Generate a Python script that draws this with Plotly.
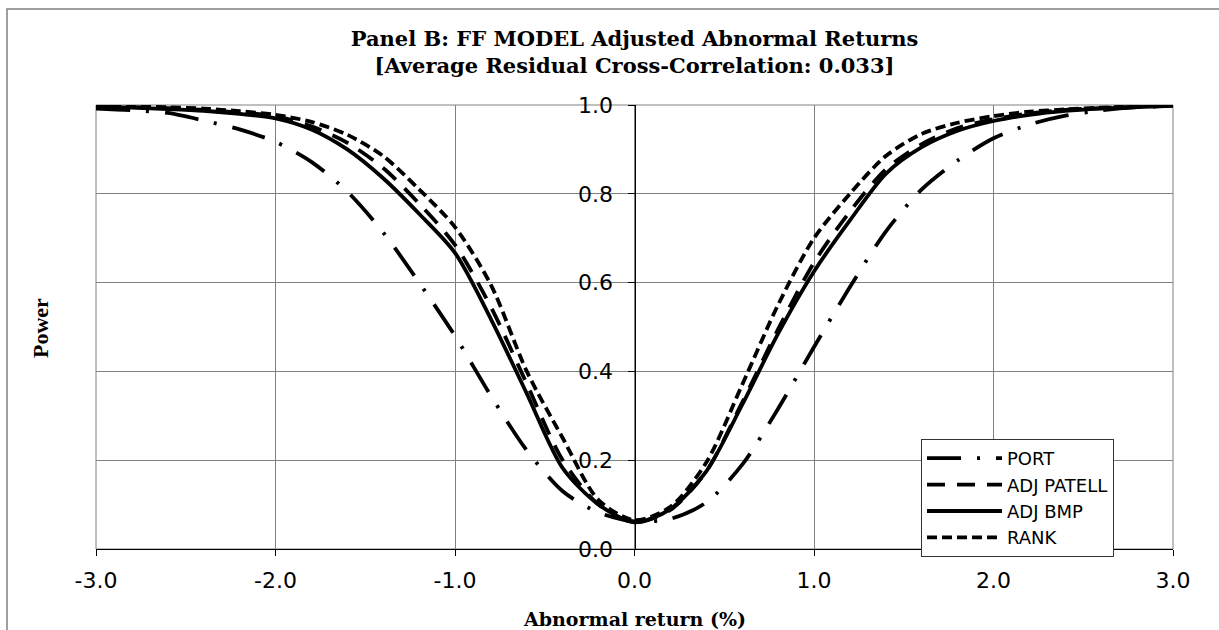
import plotly.graph_objects as go

# Abnormal return (%) grid
abnormal_return = [-3.0, -2.8, -2.6, -2.4, -2.2, -2.0, -1.8, -1.6, -1.4, -1.2, -1.0,
                   -0.8, -0.6, -0.4, -0.2, 0.0, 0.2, 0.4, 0.6, 0.8, 1.0,
                   1.2, 1.4, 1.6, 1.8, 2.0, 2.2, 2.4, 2.6, 2.8, 3.0]

power_port = [0.992, 0.988, 0.982, 0.965, 0.945, 0.917, 0.872, 0.805, 0.713, 0.600, 0.480,
              0.345, 0.222, 0.130, 0.082, 0.062, 0.068, 0.105, 0.190, 0.316, 0.455,
              0.590, 0.715, 0.810, 0.875, 0.925, 0.956, 0.976, 0.988, 0.995, 0.998]

power_adj_patell = [0.997, 0.995, 0.993, 0.989, 0.983, 0.975, 0.952, 0.915, 0.858, 0.778, 0.685,
                    0.545, 0.372, 0.200, 0.100, 0.060, 0.088, 0.175, 0.330, 0.495, 0.645,
                    0.760, 0.855, 0.912, 0.948, 0.968, 0.981, 0.989, 0.993, 0.996, 0.998]

power_adj_bmp = [0.996, 0.994, 0.991, 0.987, 0.980, 0.970, 0.945, 0.900, 0.835, 0.755, 0.667,
                 0.518, 0.350, 0.182, 0.100, 0.060, 0.090, 0.175, 0.325, 0.485, 0.625,
                 0.740, 0.845, 0.905, 0.942, 0.964, 0.978, 0.987, 0.992, 0.995, 0.998]

power_rank = [0.998, 0.997, 0.995, 0.992, 0.986, 0.978, 0.962, 0.933, 0.885, 0.810, 0.725,
              0.595, 0.400, 0.250, 0.110, 0.065, 0.095, 0.195, 0.370, 0.550, 0.700,
              0.800, 0.885, 0.935, 0.960, 0.975, 0.985, 0.990, 0.994, 0.997, 0.999]

series_names = ["PORT", "ADJ PATELL", "ADJ BMP", "RANK"]
series_values = [power_port, power_adj_patell, power_adj_bmp, power_rank]
series_dash = ["34px,16px,3px,16px", "18px,12px", "solid", "10px,5px"]

x_tick_vals = [-3.0, -2.0, -1.0, 0.0, 1.0, 2.0, 3.0]
x_tick_labels = ["-3.0", "-2.0", "-1.0", "0.0", "1.0", "2.0", "3.0"]
y_tick_vals = [0.0, 0.2, 0.4, 0.6, 0.8, 1.0]
y_tick_labels = ["0.0", "0.2", "0.4", "0.6", "0.8", "1.0"]

fig = go.Figure()
for name, vals, dash in zip(series_names, series_values, series_dash):
    fig.add_trace(go.Scatter(
        x=abnormal_return, y=vals, name=name, mode="lines",
        line=dict(color="black", width=3.8, dash=dash, shape="spline", smoothing=0.8),
    ))

W, H = 1219, 630
PL, PR, PT, PB = 96, 1173, 105, 549          # plot area in window pixels
L, T, R, B = PL, PT, W - PR, H - PB
PW, PH = PR - PL, PB - PT


def px(xw):
    return (xw - PL) / PW


def py(yw):
    return (PB - yw) / PH


fig.update_layout(
    width=W, height=H,
    margin=dict(l=L, r=R, t=T, b=B),
    paper_bgcolor="white", plot_bgcolor="white",
    showlegend=True,
    title=dict(
        text="Panel B: FF MODEL Adjusted Abnormal Returns<br>[Average Residual Cross-Correlation: 0.033]",
        font=dict(family="DejaVu Serif", size=21, color="black", weight="bold"),
        x=0.5, xref="paper", xanchor="center",
        y=1 - 46 / H, yref="container", yanchor="middle",
    ),
    legend=dict(
        x=px(921), y=py(439),
        xanchor="left", yanchor="top",
        bgcolor="white", bordercolor="#333333", borderwidth=1,
        font=dict(family="DejaVu Sans", size=18, color="black"),
        itemwidth=75, tracegroupgap=0,
    ),
    xaxis=dict(
        range=[-3.0, 3.0], tickvals=x_tick_vals, ticktext=x_tick_labels,
        showgrid=True, gridcolor="#808080", gridwidth=1,
        zeroline=False, showline=True, linecolor="black", linewidth=1,
        ticks="outside", ticklen=6, tickcolor="black", ticklabelstandoff=6,
        tickfont=dict(family="DejaVu Sans", size=22, color="black"),
    ),
    yaxis=dict(
        range=[0.0, 1.0], tickvals=y_tick_vals, ticktext=y_tick_labels,
        showgrid=True, gridcolor="#808080", gridwidth=1,
        zeroline=False, showline=True, linecolor="black", linewidth=1,
        anchor="free", position=0.5,
        ticks="outside", ticklen=7, tickcolor="black", ticklabelstandoff=10,
        tickfont=dict(family="DejaVu Sans", size=22, color="black"),
    ),
    annotations=[
        dict(text="<b>Abnormal return (%)</b>", xref="paper", yref="paper",
             x=0.5, y=py(619), xanchor="center", yanchor="middle",
             showarrow=False, font=dict(family="DejaVu Serif", size=19, color="black")),
        dict(text="<b>Power</b>", xref="paper", yref="paper",
             x=px(40), y=py(328),
             xanchor="center", yanchor="middle", textangle=-90,
             showarrow=False, font=dict(family="Liberation Serif", size=22, color="black")),
    ],
    shapes=[
        dict(type="rect", xref="paper", yref="paper", x0=0, x1=1, y0=0, y1=1,
             line=dict(color="#808080", width=1), layer="below"),
        dict(type="rect", xref="paper", yref="paper",
             x0=px(7), x1=1.2, y0=-0.5, y1=py(9),
             line=dict(color="#808080", width=1.5), layer="below"),
    ],
)

fig.write_html(
    "out.html",
    config={"displayModeBar": False},
    post_script="document.body.style.margin='0';document.body.style.overflow='hidden';",
)
